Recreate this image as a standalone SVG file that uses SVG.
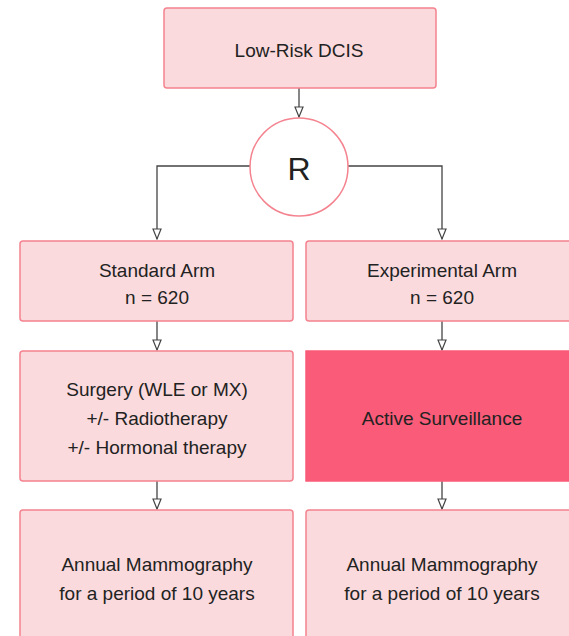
<svg xmlns="http://www.w3.org/2000/svg" width="569" height="636" viewBox="0 0 569 636">
<style>
.box{fill:#fadadd;stroke:#f4838f;stroke-width:1.5}
.hot{fill:#f95b78;stroke:#f95b78;stroke-width:1.5}
.t{font-family:"Liberation Sans",Arial,sans-serif;font-size:19px;fill:#222;text-anchor:middle}
.c{fill:none;stroke:#444;stroke-width:1.3}
</style>
<rect width="569" height="636" fill="#fff"/>
<g id="connectors">
<path class="c" d="M299,88 V117"/>
<path class="c" d="M250,166 H157 V239"/>
<path class="c" d="M348,166 H442 V239"/>
<path class="c" d="M157,321 V350"/>
<path class="c" d="M442,321 V350"/>
<path class="c" d="M157,481 V509"/>
<path class="c" d="M442,481 V509"/>
<g id="arrowheads" fill="#fff" stroke="#444" stroke-width="1.2">
<path d="M295,107 L299,117 L303,107 Z"/>
<path d="M153,229 L157,239 L161,229 Z"/>
<path d="M438,229 L442,239 L446,229 Z"/>
<path d="M153,340 L157,350 L161,340 Z"/>
<path d="M438,340 L442,350 L446,340 Z"/>
<path d="M153,499 L157,509 L161,499 Z"/>
<path d="M438,499 L442,509 L446,499 Z"/>
</g>
</g>
<g id="n-dcis">
<rect class="box" x="164" y="8" width="272" height="80" rx="3"/>
<text class="t" x="299" y="57">Low-Risk DCIS</text>
</g>
<g id="n-r">
<circle cx="299" cy="167" r="49" fill="#fff" stroke="#f4838f" stroke-width="1.5"/>
<text class="t" x="299" y="180" style="font-size:32px">R</text>
</g>
<g id="n-std">
<rect class="box" x="20" y="241" width="273" height="80" rx="3"/>
<text class="t" x="157" y="277">Standard Arm</text>
<text class="t" x="157" y="304">n = 620</text>
</g>
<g id="n-exp">
<rect class="box" x="306" y="241" width="272" height="80" rx="3"/>
<text class="t" x="442" y="277">Experimental Arm</text>
<text class="t" x="442" y="304">n = 620</text>
</g>
<g id="n-surg">
<rect class="box" x="20" y="351" width="273" height="130" rx="3"/>
<text class="t" x="157" y="396">Surgery (WLE or MX)</text>
<text class="t" x="157" y="425">+/- Radiotherapy</text>
<text class="t" x="157" y="454">+/- Hormonal therapy</text>
</g>
<g id="n-as">
<rect class="hot" x="306" y="351" width="272" height="130"/>
<text class="t" x="442" y="425">Active Surveillance</text>
</g>
<g id="n-mam1">
<rect class="box" x="20" y="510" width="273" height="140" rx="3"/>
<text class="t" x="157" y="571">Annual Mammography</text>
<text class="t" x="157" y="600">for a period of 10 years</text>
</g>
<g id="n-mam2">
<rect class="box" x="306" y="510" width="272" height="140" rx="3"/>
<text class="t" x="442" y="571">Annual Mammography</text>
<text class="t" x="442" y="600">for a period of 10 years</text>
</g>
</svg>
